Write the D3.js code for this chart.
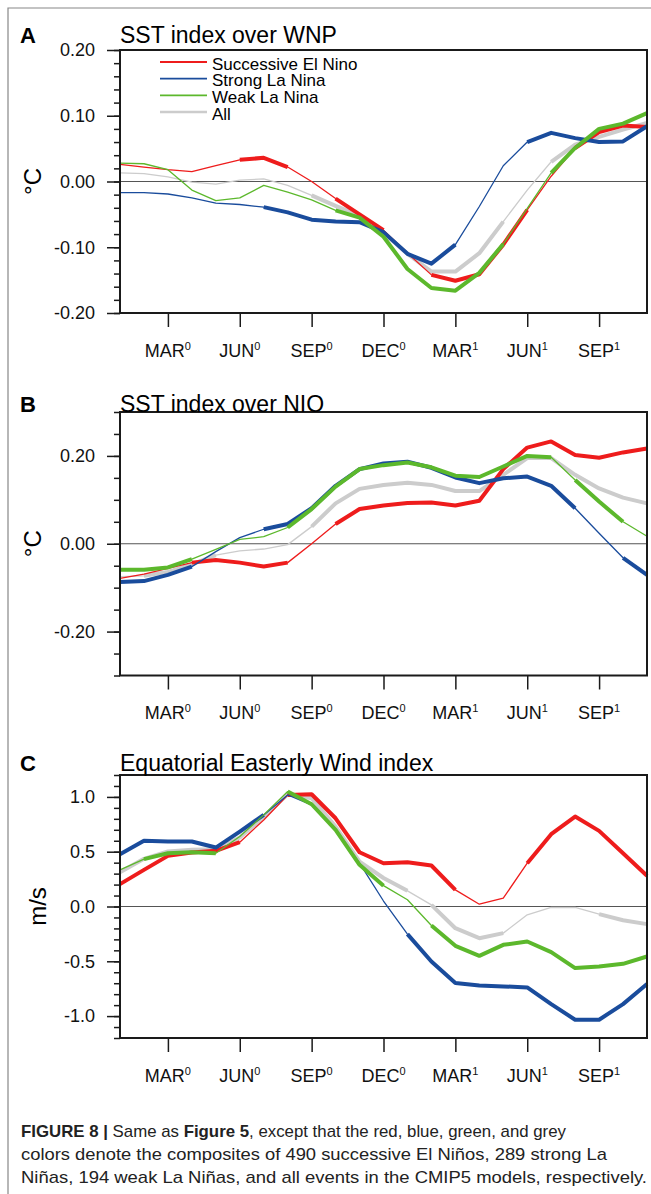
<!DOCTYPE html>
<html>
<head>
<meta charset="utf-8">
<script src="https://cdn.jsdelivr.net/npm/d3@7"></script>
<style>
  body { margin: 0; background: #fff; }
  svg { display: block; }
</style>
</head>
<body>
<div id="chart"></div>
<script>
// months: 0 = JAN(0) ... 22 = NOV(1)
const tickMonths = [2, 5, 8, 11, 14, 17, 20];
const tickNames = ['MAR', 'JUN', 'SEP', 'DEC', 'MAR', 'JUN', 'SEP'];
const tickYears = ['0', '0', '0', '0', '1', '1', '1'];

const seriesNames = ['Successive El Nino', 'Strong La Nina', 'Weak La Nina', 'All'];

// A: SST index over WNP (degC)
const wnpRed   = [0.026, 0.022, 0.018, 0.015, 0.024, 0.033, 0.036, 0.022, 0.000, -0.026, -0.050, -0.074, -0.109, -0.142, -0.151, -0.141, -0.096, -0.043, 0.008, 0.051, 0.075, 0.085, 0.083];
const wnpBlue  = [-0.017, -0.017, -0.019, -0.025, -0.033, -0.035, -0.039, -0.047, -0.058, -0.061, -0.062, -0.077, -0.110, -0.125, -0.096, -0.038, 0.024, 0.060, 0.074, 0.066, 0.060, 0.061, 0.084];
const wnpGreen = [0.028, 0.027, 0.018, -0.013, -0.029, -0.025, -0.006, -0.016, -0.028, -0.044, -0.055, -0.084, -0.133, -0.162, -0.166, -0.139, -0.095, -0.041, 0.013, 0.051, 0.080, 0.088, 0.104];
const wnpGrey  = [0.013, 0.012, 0.007, -0.001, -0.004, 0.002, 0.004, -0.006, -0.021, -0.037, -0.052, -0.078, -0.110, -0.137, -0.137, -0.109, -0.061, -0.013, 0.030, 0.056, 0.068, 0.079, 0.089];

// B: SST index over NIO (degC)
const nioRed   = [-0.079, -0.069, -0.056, -0.043, -0.037, -0.043, -0.052, -0.043, 0.000, 0.045, 0.079, 0.087, 0.093, 0.094, 0.087, 0.098, 0.170, 0.219, 0.233, 0.202, 0.196, 0.208, 0.217];
const nioBlue  = [-0.087, -0.085, -0.071, -0.052, -0.018, 0.014, 0.033, 0.045, 0.081, 0.132, 0.170, 0.183, 0.187, 0.173, 0.151, 0.138, 0.149, 0.153, 0.132, 0.081, 0.024, -0.032, -0.071];
const nioGreen = [-0.059, -0.059, -0.054, -0.035, -0.013, 0.010, 0.016, 0.037, 0.079, 0.130, 0.170, 0.179, 0.185, 0.174, 0.155, 0.152, 0.176, 0.200, 0.197, 0.145, 0.096, 0.050, 0.017];
const nioGrey  = [-0.075, -0.073, -0.064, -0.047, -0.026, -0.016, -0.012, -0.002, 0.039, 0.092, 0.125, 0.134, 0.139, 0.134, 0.120, 0.120, 0.157, 0.195, 0.195, 0.157, 0.126, 0.105, 0.092];

// C: Equatorial Easterly Wind index (m/s)
const eewRed   = [0.204, 0.334, 0.462, 0.492, 0.508, 0.587, 0.790, 1.018, 1.024, 0.805, 0.495, 0.395, 0.404, 0.374, 0.152, 0.021, 0.076, 0.395, 0.660, 0.821, 0.690, 0.486, 0.280];
const eewBlue  = [0.477, 0.599, 0.593, 0.593, 0.538, 0.684, 0.836, 1.018, 0.927, 0.699, 0.395, 0.050, -0.252, -0.502, -0.699, -0.720, -0.729, -0.739, -0.891, -1.033, -1.033, -0.891, -0.708];
const eewGreen = [0.334, 0.432, 0.486, 0.495, 0.486, 0.638, 0.836, 1.049, 0.933, 0.699, 0.380, 0.190, 0.061, -0.173, -0.359, -0.450, -0.350, -0.319, -0.416, -0.562, -0.547, -0.523, -0.456];
const eewGrey  = [0.313, 0.435, 0.502, 0.517, 0.523, 0.629, 0.821, 1.024, 0.988, 0.729, 0.410, 0.260, 0.143, 0.015, -0.198, -0.289, -0.243, -0.076, -0.009, -0.009, -0.070, -0.125, -0.161];

// significant month-to-month segments (1 = drawn thick)
const wnpSig = ['0000011001100111100111', '0000001111111100011111', '0000000001111111001111', '0000000011111111001111'];
const nioSig = ['0001111001111111111111', '1110001111111111111001', '1110000111111111110110', '0111000011111111111111'];
const eewSig = ['1111100111111100011111', '1111110000001111111111', '0111000111100111111111', '1111111111110111000011'];

// axis ticks
const wnpTicks = [-0.2, -0.1, 0, 0.1, 0.2];
const nioTicks = [-0.2, 0, 0.2];
const eewTicks = [-1, -0.5, 0, 0.5, 1];

const colors = ['#ee1c1c', '#1a4c9c', '#5cb82c', '#cccccc'];
const font = "'Liberation Sans', Arial, Helvetica, sans-serif";
const translate = (x, y) => `translate(${x},${y})`;

const W = 651, H = 1194;
const left = 120, right = 647;

const svg = d3.select('#chart')
  .append('svg')
  .attr('width', W)
  .attr('height', H)
  .attr('font-family', font);

// page border
svg.append('path')
  .attr('d', `M8,${H} V8 H${W}`)
  .attr('fill', 'none')
  .attr('stroke', '#888')
  .attr('stroke-width', 1.2);

const panels = [
  { letter: 'A', title: 'SST index over WNP', unit: '°C', unitX: 41, top: 50, bottom: 313, titleY: 43,
    domain: [-0.2, 0.2], ticks: wnpTicks, minorStep: 0.02, digits: 2,
    values: [wnpRed, wnpBlue, wnpGreen, wnpGrey], sig: wnpSig, legend: true },
  { letter: 'B', title: 'SST index over NIO', unit: '°C', unitX: 41, top: 412, bottom: 675.5, titleY: 411.5,
    domain: [-0.3, 0.3], ticks: nioTicks, minorStep: 0.05, digits: 2,
    values: [nioRed, nioBlue, nioGreen, nioGrey], sig: nioSig },
  { letter: 'C', title: 'Equatorial Easterly Wind index', unit: 'm/s', unitX: 46, top: 775, bottom: 1038, titleY: 770.5,
    domain: [-1.2, 1.2], ticks: eewTicks, minorStep: 0.1, digits: 1,
    values: [eewRed, eewBlue, eewGreen, eewGrey], sig: eewSig }
];

// grey underneath, then red, blue, green
const drawOrder = [3, 0, 1, 2];

panels.forEach(drawPanel);

function drawPanel(p) {
  const x = d3.scaleLinear().domain([0, 22]).range([left, right]);
  const y = d3.scaleLinear().domain(p.domain).range([p.bottom, p.top]);
  const g = svg.append('g');

  // zero line
  g.append('line')
    .attr('x1', left).attr('x2', right)
    .attr('y1', y(0)).attr('y2', y(0))
    .attr('stroke', '#555')
    .attr('stroke-width', 1.2);

  const line = d3.line().x(d => x(d[0])).y(d => y(d[1]));

  drawOrder.forEach(k => {
    const pts = p.values[k].map((v, i) => [i, v]);
    g.append('path')
      .attr('d', line(pts))
      .attr('fill', 'none')
      .attr('stroke', colors[k])
      .attr('stroke-width', 1.3)
      .attr('stroke-linejoin', 'round');

    // thick runs where significant
    const runs = [];
    let run = null;
    p.sig[k].split('').forEach((f, i) => {
      if (f === '1') {
        if (!run) { run = [pts[i]]; runs.push(run); }
        run.push(pts[i + 1]);
      } else run = null;
    });
    g.selectAll(null)
      .data(runs)
      .join('path')
      .attr('d', line)
      .attr('fill', 'none')
      .attr('stroke', colors[k])
      .attr('stroke-width', 4)
      .attr('stroke-linejoin', 'round');
  });

  // frame
  g.append('rect')
    .attr('x', left).attr('y', p.top)
    .attr('width', right - left).attr('height', p.bottom - p.top)
    .attr('fill', 'none')
    .attr('stroke', '#1a1a1a')
    .attr('stroke-width', 2);

  // y axis: minor then major ticks
  const [y0, y1] = p.domain;
  const minor = d3.range(Math.round((y1 - y0) / p.minorStep) + 1).map(i => +(y0 + i * p.minorStep).toFixed(3));
  const gMinor = g.append('g')
    .attr('transform', translate(left, 0))
    .call(d3.axisLeft(y).tickValues(minor).tickSize(6).tickFormat(''));
  gMinor.select('.domain').remove();

  const gy = g.append('g')
    .attr('transform', translate(left, 0))
    .call(d3.axisLeft(y).tickValues(p.ticks).tickSize(13).tickPadding(12).tickFormat(d => d.toFixed(p.digits)));
  gy.select('.domain').remove();
  gy.attr('font-family', font).attr('font-size', 18);
  gy.selectAll('text').attr('fill', '#111');
  g.selectAll('.tick line').attr('stroke', '#1a1a1a').attr('stroke-width', 1.5);

  // x axis
  const gx = g.append('g')
    .attr('transform', translate(0, p.bottom))
    .call(d3.axisBottom(x).tickValues(tickMonths).tickSize(14).tickFormat(''));
  gx.select('.domain').remove();
  gx.selectAll('.tick line').attr('stroke', '#1a1a1a').attr('stroke-width', 1.5);
  gx.selectAll('.tick text').remove();

  const labels = g.selectAll('.xlab')
    .data(tickMonths)
    .join('text')
    .attr('class', 'xlab')
    .attr('x', d => x(d))
    .attr('y', p.bottom + 43.5)
    .attr('text-anchor', 'middle')
    .attr('font-size', 18)
    .attr('fill', '#111');
  labels.append('tspan').text((d, i) => tickNames[i]);
  labels.append('tspan')
    .attr('font-size', 11)
    .attr('dy', -7)
    .text((d, i) => tickYears[i]);

  // titles
  g.append('text')
    .attr('x', 20).attr('y', p.titleY)
    .attr('font-size', 22).attr('font-weight', 'bold')
    .text(p.letter);
  g.append('text')
    .attr('x', left).attr('y', p.titleY)
    .attr('font-size', 23)
    .text(p.title);
  g.append('text')
    .attr('transform', translate(p.unitX, (p.top + p.bottom) / 2) + ' rotate(-90)')
    .attr('text-anchor', 'middle')
    .attr('font-size', 24)
    .text(p.unit);

  if (p.legend) {
    const lg = g.selectAll('.legend')
      .data(seriesNames)
      .join('g')
      .attr('class', 'legend')
      .attr('transform', (d, i) => translate(160, 62 + i * 16.7));
    lg.append('line')
      .attr('x1', 0).attr('x2', 47)
      .attr('stroke', (d, i) => colors[i])
      .attr('stroke-width', (d, i) => i === 3 ? 2.5 : 1.8);
    lg.append('text')
      .attr('x', 52).attr('y', 7.5)
      .attr('font-size', 17)
      .text(d => d);
  }
}

// caption
const caption = [
  [['FIGURE 8 | ', true], ['Same as ', false], ['Figure 5', true], [', except that the red, blue, green, and grey', false]],
  [['colors denote the composites of 490 successive El Niños, 289 strong La', false]],
  [['Niñas, 194 weak La Niñas, and all events in the CMIP5 models, respectively.', false]]
];
const captionWidths = [545, 586, 626];

caption.forEach((parts, i) => {
  const t = svg.append('text')
    .attr('x', 21)
    .attr('y', 1137 + i * 23)
    .attr('font-size', 17)
    .attr('fill', '#222')
    .attr('textLength', captionWidths[i])
    .attr('lengthAdjust', 'spacingAndGlyphs');
  parts.forEach(([s, b]) => {
    t.append('tspan').attr('font-weight', b ? 'bold' : null).text(s);
  });
});
</script>
</body>
</html>
